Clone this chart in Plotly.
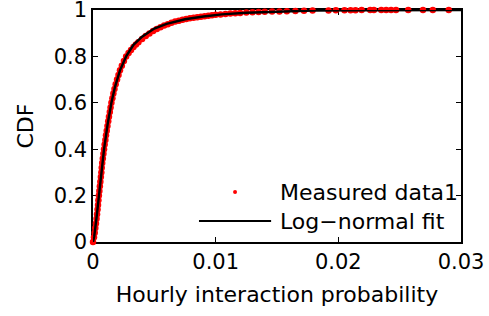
import plotly.graph_objects as go

meas_x = [0.0, 0.00008, 0.00014, 0.00019, 0.00024, 0.00029, 0.00033, 0.00037, 0.00041, 0.00044,
          0.00048, 0.00052, 0.00056, 0.00060, 0.00064, 0.00068, 0.00071, 0.00075, 0.00080, 0.00085,
          0.00090, 0.00095, 0.00101, 0.00106, 0.00112, 0.00118, 0.00124, 0.00130, 0.00137, 0.00143,
          0.00150, 0.00158, 0.00166, 0.00175, 0.00185, 0.00196, 0.00208, 0.00220, 0.00235, 0.00252,
          0.00270,
          0.0029, 0.0031, 0.0033, 0.0035, 0.0037, 0.0040, 0.0043, 0.0046, 0.0049, 0.0052,
          0.0055, 0.0058, 0.0061, 0.0064, 0.0067, 0.0070, 0.0073, 0.0076, 0.0079, 0.0082,
          0.0085, 0.0088, 0.0091, 0.0094, 0.0097, 0.0100, 0.0104, 0.0108, 0.0112, 0.0116,
          0.0120, 0.0125, 0.0130, 0.0135, 0.0140, 0.0146, 0.0152, 0.0158, 0.0165, 0.0172,
          0.0179, 0.0192, 0.0198, 0.0205, 0.0210, 0.0214, 0.0219, 0.0226, 0.0229, 0.0235,
          0.0239, 0.0243, 0.0247, 0.0257, 0.0269, 0.0277, 0.0290]
meas_cdf = [0.00, 0.02, 0.04, 0.06, 0.08, 0.10, 0.12, 0.14, 0.16, 0.18,
            0.20, 0.22, 0.24, 0.26, 0.28, 0.30, 0.32, 0.34, 0.36, 0.38,
            0.40, 0.42, 0.44, 0.46, 0.48, 0.50, 0.52, 0.54, 0.56, 0.58,
            0.60, 0.62, 0.64, 0.66, 0.68, 0.70, 0.72, 0.74, 0.76, 0.78,
            0.80,
            0.815, 0.828, 0.840, 0.851, 0.861, 0.875, 0.888, 0.899, 0.909, 0.918,
            0.926, 0.933, 0.939, 0.945, 0.950, 0.954, 0.958, 0.961, 0.964, 0.967,
            0.969, 0.971, 0.973, 0.975, 0.977, 0.979, 0.981, 0.983, 0.985, 0.986,
            0.987, 0.989, 0.990, 0.991, 0.992, 0.993, 0.994, 0.995, 0.996, 0.997,
            0.998, 0.998, 0.999, 0.999, 0.999, 0.999, 1.0, 1.0, 1.0, 1.0,
            1.0, 1.0, 1.0, 1.0, 1.0, 1.0, 1.0]

# Log-normal fit curve
fit_x = [0, 0.0001, 0.0003, 0.0005, 0.0007, 0.0009, 0.0012, 0.0015, 0.0018, 0.0022,
         0.0027, 0.0033, 0.004, 0.005, 0.006, 0.0075, 0.009, 0.0105, 0.0125, 0.015,
         0.018, 0.022, 0.026, 0.03]
fit_cdf = [0, 0.025, 0.11, 0.215, 0.315, 0.40, 0.51, 0.60, 0.67, 0.74,
           0.80, 0.85, 0.885, 0.92, 0.94, 0.96, 0.972, 0.981, 0.988, 0.994,
           0.998, 0.999, 0.9995, 0.9998]

x_ticks = [0, 0.01, 0.02, 0.03]
x_tick_labels = ["0", "0.01", "0.02", "0.03"]
y_ticks = [0, 0.2, 0.4, 0.6, 0.8, 1]
y_tick_labels = ["0", "0.2", "0.4", "0.6", "0.8", "1"]

legend_labels = ["Measured data1", "Log\u2212normal fit"]

FONT = "DejaVu Sans"
fig = go.Figure()
fig.add_trace(go.Scatter(x=meas_x, y=meas_cdf, mode="markers", name=legend_labels[0],
                         marker=dict(color="#ff0000", size=6.5, line=dict(width=0)),
                         showlegend=False, cliponaxis=False))
fig.add_trace(go.Scatter(x=fit_x, y=fit_cdf, mode="lines", name=legend_labels[1],
                         line=dict(color="black", width=2.4), showlegend=False, cliponaxis=False))

# custom legend (MATLAB style, long line sample)
fig.add_shape(type="line", xref="paper", yref="paper", x0=0.288, x1=0.484, y0=0.0905, y1=0.0905,
              line=dict(color="black", width=2))
fig.add_shape(type="circle", xref="paper", yref="paper", xsizemode="pixel", ysizemode="pixel",
              xanchor=0.386, yanchor=0.2155, x0=-2, x1=2, y0=-2, y1=2,
              fillcolor="#ff0000", line=dict(width=0))
for lab, yy in zip(legend_labels, [0.2155, 0.0905]):
    fig.add_annotation(xref="paper", yref="paper", x=0.503, y=yy, text=lab, showarrow=False,
                       xanchor="left", yanchor="middle", font=dict(family=FONT, size=22, color="black"))

axis_common = dict(showgrid=False, zeroline=False, showline=True, linecolor="black", linewidth=1.5,
                   mirror="ticks", ticks="inside", ticklen=5, tickwidth=1, tickcolor="black",
                   ticklabeloverflow="allow", layer="below traces",
                   tickfont=dict(family=FONT, size=21, color="black"))
fig.update_xaxes(range=[0, 0.03], tickvals=x_ticks, ticktext=x_tick_labels,
                 title=dict(text="Hourly interaction probability", font=dict(family=FONT, size=22, color="black"),
                            standoff=14),
                 **axis_common)
fig.update_yaxes(range=[0, 1], tickvals=y_ticks, ticktext=y_tick_labels,
                 title=dict(text="CDF", font=dict(family=FONT, size=22, color="black"), standoff=14),
                 **axis_common)
fig.update_layout(width=489, height=316, margin=dict(l=93, r=28, t=10, b=74, autoexpand=False),
                  plot_bgcolor="white", paper_bgcolor="white", font=dict(family=FONT))
fig.write_html("out.html", config={"displayModeBar": False},
               post_script="document.body.style.margin='0';")
